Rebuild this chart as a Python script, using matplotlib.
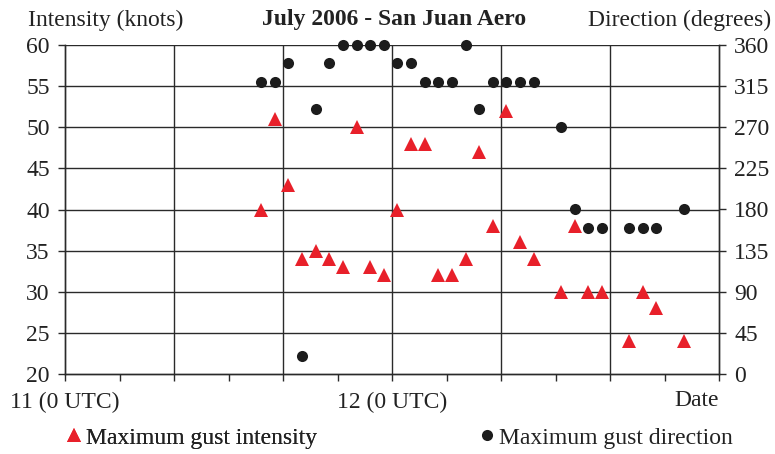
import numpy as np
import matplotlib
matplotlib.use("Agg")
import matplotlib.pyplot as plt

# hours after 11 July 2006 0 UTC
hours = [14.4, 15.4, 16.4, 17.4, 18.4, 19.4, 20.4, 21.4, 22.4, 23.4,
         24.4, 25.4, 26.4, 27.4, 28.4, 29.4, 30.4, 31.4, 32.4, 33.4,
         34.4, 36.4, 37.4, 38.4, 39.4, 41.4, 42.4, 43.4, 45.4]
# maximum gust intensity (knots)
gust_int = [40, 51, 43, 34, 35, 34, 33, 50, 33, 32,
            40, 48, 48, 32, 32, 34, 47, 38, 52, 36,
            34, 30, 38, 30, 30, 24, 30, 28, 24]
# maximum gust direction (degrees)
gust_dir = [320, 320, 340, 20, 290, 340, 360, 360, 360, 360,
            340, 340, 320, 320, 320, 360, 290, 320, 320, 320,
            320, 270, 180, 160, 160, 160, 160, 160, 180]

plt.rcParams['font.family'] = ['Liberation Serif', 'DejaVu Serif']

fig = plt.figure(figsize=(7.75, 4.54), dpi=100)
ax = fig.add_axes([65/775, 1-374/454, (719-65)/775, (374-45)/454])
ax2 = ax.twinx()

gc = '#2a2a2a'
ax.set_xlim(0, 48)
ax.set_ylim(20, 60)
ax2.set_ylim(0, 360)
ax.set_yticks(np.arange(20, 61, 5))
ax2.set_yticks(np.arange(0, 361, 45))
ax.set_xticks(np.arange(0, 49, 4))
ax.set_xticklabels(['11 (0 UTC)', '', '', '', '', '', '12 (0 UTC)', '', '', '', '', '', ''])

# grid: horizontal every 5 knots, vertical every 8 h
for v in np.arange(25, 61, 5):
    ax.axhline(v, color=gc, lw=1.0, zorder=1)
for h in np.arange(8, 48, 8):
    ax.axvline(h, color=gc, lw=1.0, zorder=1)

for a in (ax, ax2):
    for s in a.spines.values():
        s.set_color(gc)
        s.set_linewidth(1.0)
    a.spines['top'].set_visible(False)
    a.tick_params(direction='out', length=5, width=1.0, color=gc,
                  labelsize=17, colors='#222222')
ax.tick_params(axis='x', pad=8)
ax.tick_params(axis='y', pad=6)
ax2.tick_params(axis='y', pad=6)

l1, = ax.plot(hours, gust_int, ls='none', marker='^', ms=10, color='#e8202a',
              markeredgewidth=0, zorder=3, label='Maximum gust intensity')
l2, = ax2.plot(hours, gust_dir, ls='none', marker='o', ms=8, color='#1c1c1c',
               markeredgewidth=0, zorder=3, label='Maximum gust direction', clip_on=False)

fig.text(719/775, 1-400/454, 'Date', ha='right', va='center', fontsize=17, color='#222222')
fig.text(28/775, 1-20/454, 'Intensity (knots)', ha='left', va='center', fontsize=17, color='#222222')
fig.text(771/775, 1-20/454, 'Direction (degrees)', ha='right', va='center', fontsize=17, color='#222222')
fig.text(394/775, 1-20/454, 'July 2006 - San Juan Aero', ha='center', va='center',
         fontsize=17, fontweight='bold', color='#222222')

leg1 = fig.legend(handles=[l1], loc='center left', bbox_to_anchor=(43/775, 1-438/454),
                  frameon=False, fontsize=17, handlelength=0.8, handletextpad=0.12,
                  labelcolor='#222222')
fig.legend(handles=[l2], loc='center left', bbox_to_anchor=(456/775, 1-438/454),
           frameon=False, fontsize=17, handlelength=0.8, handletextpad=0.12,
           labelcolor='#222222')
fig.add_artist(leg1)

fig.savefig('out.png', dpi=100)
